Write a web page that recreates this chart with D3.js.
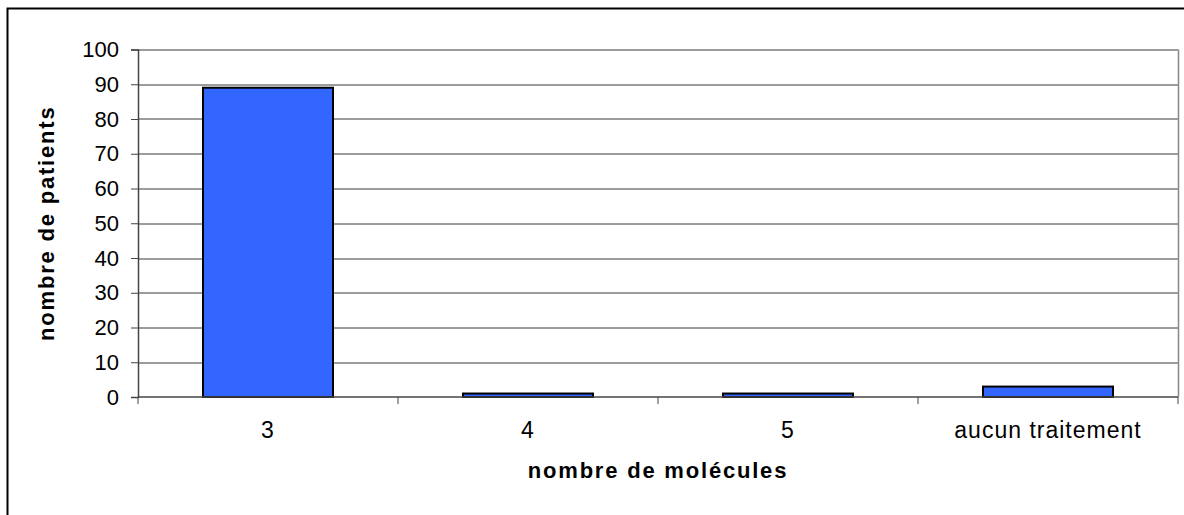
<!DOCTYPE html>
<html>
<head>
<meta charset="utf-8">
<script src="https://cdn.jsdelivr.net/npm/d3@7"></script>
<style>
  body { margin: 0; background: #fff; }
  text { font-family: "Liberation Sans", Arial, sans-serif; fill: #000; }
</style>
</head>
<body>
<div id="chart"></div>
<script>
// Data
let categories = ["3", "4", "5", "aucun traitement"];
let patients = [89, 1, 1, 3];
let yTicks = [0, 10, 20, 30, 40, 50, 60, 70, 80, 90, 100];

let W = 1184, H = 515;
let margin = {top: 49.5, right: 6, bottom: 118, left: 138};
let width = W - margin.left - margin.right,
    height = H - margin.top - margin.bottom;

let svg = d3.select("#chart").append("svg")
    .attr("width", W)
    .attr("height", H);

// outer frame (only top and left visible)
svg.append("path")
    .attr("d", "M7.5," + H + "V8.5H" + W)
    .attr("fill", "none")
    .attr("stroke", "#000")
    .attr("stroke-width", 2);

let g = svg.append("g")
    .attr("transform", "translate(" + margin.left + "," + margin.top + ")");

let x = d3.scaleBand().domain(categories).range([0, width]).paddingInner(0.5).paddingOuter(0.25);
let xb = d3.scaleBand().domain(categories).range([0, width]);
let y = d3.scaleLinear().domain([0, 100]).range([height, 0]);

// gridlines
g.selectAll(".grid")
    .data(yTicks.slice(1))
    .enter().append("line")
    .attr("class", "grid")
    .attr("x1", 0).attr("x2", width)
    .attr("y1", function(d) { return Math.round(y(d)) + 0.5; })
    .attr("y2", function(d) { return Math.round(y(d)) + 0.5; })
    .attr("stroke", "#3a3a3a")
    .attr("stroke-width", 1);

// plot border on right
g.append("line")
    .attr("x1", width + 0.5).attr("x2", width + 0.5)
    .attr("y1", 0).attr("y2", height)
    .attr("stroke", "#888").attr("stroke-width", 1.5);

// bars
g.selectAll(".bar")
    .data(patients)
    .enter().append("rect")
    .attr("class", "bar")
    .attr("x", function(d, i) { return x(categories[i]); })
    .attr("width", x.bandwidth())
    .attr("y", function(d) { return y(d); })
    .attr("height", function(d) { return height - y(d); })
    .attr("fill", "#3366ff")
    .attr("stroke", "#000")
    .attr("stroke-width", 2);

// y axis
let yAxis = g.append("g")
    .call(d3.axisLeft(y).tickValues(yTicks).tickSize(7).tickPadding(12));
yAxis.select(".domain").attr("stroke", "#444").attr("stroke-width", 1.5);
yAxis.selectAll(".tick line").attr("stroke", "#444");
yAxis.selectAll(".tick text")
    .style("font-size", "22px");

// x axis with ticks on band boundaries
let xAxis = g.append("g")
    .attr("transform", "translate(0," + height + ")");
xAxis.append("line")
    .attr("x1", 0).attr("x2", width)
    .attr("stroke", "#444").attr("stroke-width", 1.5);
let bounds = categories.map(function(c) { return xb(c); }).concat([width]);
xAxis.selectAll(".xtick")
    .data(bounds)
    .enter().append("line")
    .attr("class", "xtick")
    .attr("x1", function(d) { return d; })
    .attr("x2", function(d) { return d; })
    .attr("y1", 0).attr("y2", 7)
    .attr("stroke", "#444");
xAxis.selectAll(".xlabel")
    .data(categories)
    .enter().append("text")
    .attr("class", "xlabel")
    .attr("x", function(d) { return xb(d) + xb.bandwidth() / 2; })
    .attr("y", 41)
    .attr("text-anchor", "middle")
    .style("font-size", "23px")
    .style("letter-spacing", "1px")
    .text(function(d) { return d; });

// axis titles
svg.append("text")
    .attr("x", margin.left + width / 2)
    .attr("y", 478)
    .attr("text-anchor", "middle")
    .style("font-size", "22px")
    .style("font-weight", "bold")
    .style("letter-spacing", "1.8px")
    .text("nombre de molécules");

svg.append("text")
    .attr("transform", "translate(54," + (margin.top + height / 2) + ") rotate(-90)")
    .attr("text-anchor", "middle")
    .style("font-size", "22px")
    .style("font-weight", "bold")
    .style("letter-spacing", "1.8px")
    .text("nombre de patients");
</script>
</body>
</html>
